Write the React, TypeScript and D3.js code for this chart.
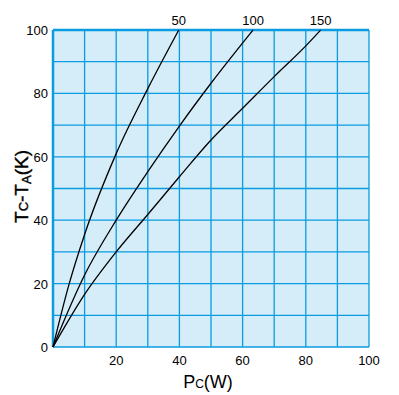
import React from "react";
import * as d3 from "d3";

// Pc (W) vs Tc-Ta (K), one curve per label
const xTicks = [0, 20, 40, 60, 80, 100];
const yTicks = [0, 20, 40, 60, 80, 100];
const curveLabels = ["50", "100", "150"];
const curve50 = [
  [0, 0], [5, 19.5], [10, 35.5], [20, 61], [30, 81.5], [39.8, 100],
];
const curve100 = [
  [0, 0], [10, 22.7], [20, 40], [30, 55.3], [40, 69.7], [50, 83.2], [63.3, 100],
];
const curve150 = [
  [0, 0], [10, 16.6], [20, 30], [30, 41.8], [40, 53.7], [50, 65.3], [60, 75.3],
  [70, 85.3], [80, 95], [84.7, 100],
];
const curves = [curve50, curve100, curve150];

const W = 399;
const H = 395;
const left = 53;
const top = 30;
const right = 369;
const bottom = 347;
const gridColor = "#0a9be0";
const fillColor = "#d5ecf9";
const font = "'Liberation Sans', Arial, sans-serif";

const App = () => {
  const x = d3.scaleLinear().domain([0, 100]).range([left, right]);
  const y = d3.scaleLinear().domain([0, 100]).range([bottom, top]);
  const grid = d3.range(0, 101, 10);

  const line = d3
    .line<number[]>()
    .x((d) => x(d[0]))
    .y((d) => y(d[1]))
    .curve(d3.curveMonotoneX);

  return (
    <svg width={W} height={H} style={{ position: "absolute", left: 0, top: 0 }}>
      <rect x={left} y={top} width={right - left} height={bottom - top} fill={fillColor} />
      {grid.map((g) => (
        <g key={g}>
          <line x1={x(g)} x2={x(g)} y1={top} y2={bottom} stroke={gridColor} strokeWidth={1.3} />
          <line x1={left} x2={right} y1={y(g)} y2={y(g)} stroke={gridColor} strokeWidth={1.3} />
        </g>
      ))}
      <line x1={left} x2={right} y1={top} y2={top} stroke={gridColor} strokeWidth={2.5} />
      <line x1={left} x2={left} y1={top} y2={bottom} stroke={gridColor} strokeWidth={2.5} />
      {curves.map((c, i) => (
        <path key={i} d={line(c) || ""} fill="none" stroke="#000" strokeWidth={1.3} />
      ))}
      {curves.map((c, i) => (
        <text
          key={curveLabels[i]}
          x={x(c[c.length - 1][0])}
          y={top - 5}
          textAnchor="middle"
          fontFamily={font}
          fontSize={13}
        >
          {curveLabels[i]}
        </text>
      ))}
      {xTicks.map((t) => (
        <text
          key={t}
          x={x(t)}
          y={bottom + 18}
          textAnchor="middle"
          fontFamily={font}
          fontSize={13}
        >
          {t === 0 ? "" : t}
        </text>
      ))}
      {yTicks.map((t) => (
        <text
          key={t}
          x={left - 5}
          y={y(t) + 5}
          textAnchor="end"
          fontFamily={font}
          fontSize={13}
        >
          {t}
        </text>
      ))}
      <text x={208} y={388} textAnchor="middle" fontFamily={font} fontSize={18}>
        P<tspan fontSize={12}>C</tspan>(W)
      </text>
      <text
        transform={`translate(28,${(top + bottom) / 2 - 2}) rotate(-90)`}
        textAnchor="middle"
        fontFamily={font}
        fontSize={19}
        stroke="#000"
        strokeWidth={0.4}
      >
        T<tspan fontSize={13}>C</tspan>-T<tspan fontSize={13} dy={3}>A</tspan>
        <tspan dy={-3}>(K)</tspan>
      </text>
    </svg>
  );
};

export default App;
